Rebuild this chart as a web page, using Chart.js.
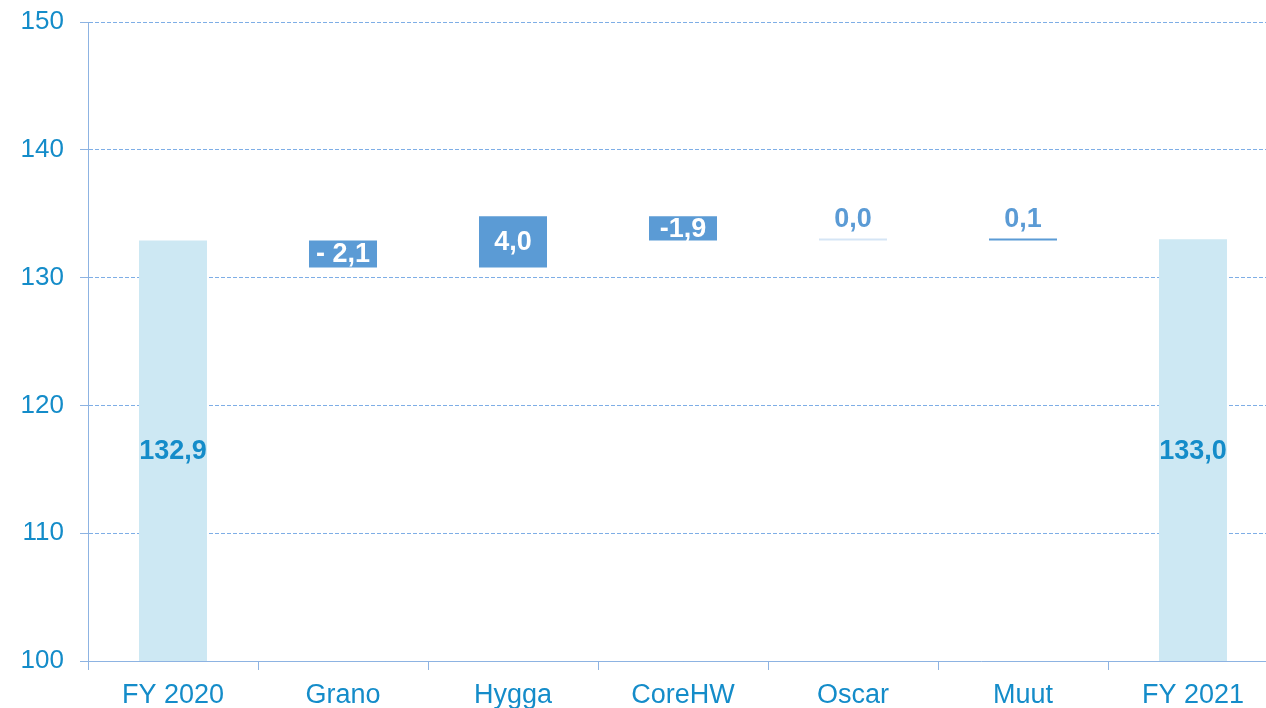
<!DOCTYPE html>
<html>
<head>
<meta charset="utf-8">
<script src="https://cdn.jsdelivr.net/npm/chart.js@4"></script>
<style>
  html, body { margin: 0; padding: 0; overflow: hidden; background: #fff; }
  #wrap { width: 1278px; height: 708px; }
</style>
</head>
<body>
<div id="wrap"><canvas id="bridgeChart"></canvas></div>
<script>
const categories = ['FY 2020', 'Grano', 'Hygga', 'CoreHW', 'Oscar', 'Muut', 'FY 2021'];
const startValue = 132.9;
const changes = [-2.1, 4.0, -1.9, 0.0, 0.1];
const endValue = 133.0;
const labelTexts = ['132,9', '- 2,1', '4,0', '-1,9', '0,0', '0,1', '133,0'];
const yTicks = [100, 110, 120, 130, 140, 150];

const blueText = '#148cc9';
const lineBlue = '#8db3e2';
const totalColor = '#cde8f3';
const deltaColor = '#5b9bd5';

// build floating bars for the bridge
const ranges = [[100, startValue]];
const colors = [totalColor];
let running = startValue;
changes.forEach(c => {
    const next = Math.round((running + c) * 10) / 10;
    ranges.push([running, next]);
    colors.push(c === 0 ? '#d5e5f5' : deltaColor);
    running = next;
});
ranges.push([100, endValue]);
colors.push(totalColor);

const barLabels = {
    id: 'barLabels',
    afterDatasetsDraw(chart) {
        const ctx = chart.ctx;
        const meta = chart.getDatasetMeta(0);
        ctx.save();
        ctx.font = 'bold 27px "Liberation Sans", Arial, sans-serif';
        ctx.textAlign = 'center';
        ctx.textBaseline = 'middle';
        meta.data.forEach((bar, i) => {
            const top = Math.min(bar.y, bar.base);
            const bottom = Math.max(bar.y, bar.base);
            const isTotal = i === 0 || i === meta.data.length - 1;
            if (isTotal) {
                ctx.fillStyle = blueText;
                ctx.fillText(labelTexts[i], bar.x, (top + bottom) / 2 + 1);
            } else if (bottom - top < 15) {
                ctx.fillStyle = deltaColor;
                ctx.fillText(labelTexts[i], bar.x, top - 19);
            } else {
                ctx.fillStyle = '#ffffff';
                ctx.fillText(labelTexts[i], bar.x, (top + bottom) / 2 + 1);
            }
        });
        ctx.restore();
    }
};

new Chart(document.getElementById('bridgeChart'), {
    type: 'bar',
    data: {
        labels: categories,
        datasets: [{
            data: ranges,
            backgroundColor: colors,
            categoryPercentage: 1,
            barPercentage: 0.4,
            minBarLength: 2
        }]
    },
    options: {
        responsive: true,
        maintainAspectRatio: false,
        animation: false,
        layout: { padding: { top: 22, left: 0, right: 0, bottom: 0 } },
        plugins: {
            legend: { display: false },
            tooltip: { enabled: false }
        },
        scales: {
            x: {
                grid: {
                    offset: true,
                    drawOnChartArea: false,
                    color: lineBlue,
                    tickLength: 9
                },
                border: { color: lineBlue, width: 1 },
                ticks: {
                    color: blueText,
                    padding: 9,
                    maxRotation: 0,
                    font: { family: '"Liberation Sans", Arial, sans-serif', size: 27 }
                },
                afterFit: (s) => { s.height = 47; s.paddingLeft = 0; s.paddingRight = 0; }
            },
            y: {
                min: 100,
                max: 150,
                afterBuildTicks: (s) => { s.ticks = yTicks.map(v => ({ value: v })); },
                grid: {
                    color: '#7eaee6',
                    tickLength: 8,
                    tickColor: lineBlue
                },
                border: { color: lineBlue, width: 1, dash: [4, 2] },
                ticks: {
                    color: blueText,
                    padding: 16,
                    font: { family: '"Liberation Sans", Arial, sans-serif', size: 26 }
                },
                afterFit: (s) => { s.width = 88; s.paddingTop = 0; s.paddingBottom = 0; }
            }
        }
    },
    plugins: [barLabels]
});
</script>
</body>
</html>
